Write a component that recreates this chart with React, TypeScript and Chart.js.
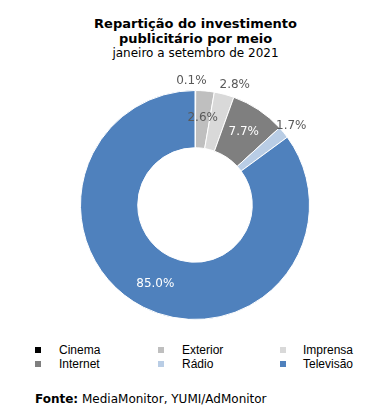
import React, { useEffect, useRef } from "react";
import { Chart, registerables } from "chart.js";

Chart.register(...registerables);

const categories = ["Cinema", "Exterior", "Imprensa", "Internet", "Rádio", "Televisão"];
const shares = [0.1, 2.6, 2.8, 7.7, 1.7, 85.0];
const colors = ["#000000", "#bfbfbf", "#d9d9d9", "#7f7f7f", "#b9cde5", "#4f81bd"];
const labelPlacement = ["out", "in", "out", "in", "out", "in"];
const labelColors = ["#595959", "#595959", "#595959", "#ffffff", "#595959", "#ffffff"];

const titleLines = ["Repartição do investimento", "publicitário por meio"];
const subtitle = "janeiro a setembro de 2021";
const sourceLabel = "Fonte:";
const sourceText = " MediaMonitor, YUMI/AdMonitor";

const labelPlugin = {
  id: "sliceLabels",
  afterDatasetsDraw(chart: any) {
    const ctx = chart.ctx;
    const meta = chart.getDatasetMeta(0);
    ctx.save();
    ctx.font = "12px 'DejaVu Sans'";
    ctx.textAlign = "center";
    ctx.textBaseline = "middle";
    meta.data.forEach((arc: any, i: number) => {
      const { x, y, startAngle, endAngle, innerRadius, outerRadius } = arc.getProps(
        ["x", "y", "startAngle", "endAngle", "innerRadius", "outerRadius"],
        true
      );
      const mid = (startAngle + endAngle) / 2;
      const text = shares[i].toFixed(1) + "%";
      let r: number;
      let dx = 0;
      if (labelPlacement[i] === "in") {
        r = (innerRadius + outerRadius) / 2 + 2;
      } else {
        r = outerRadius + 10;
        const s = Math.cos(mid);
        if (s > 0.15 && s < 0.5) dx = 8;
        if (Math.abs(s) < 0.05) dx = -4;
      }
      const px = x + Math.cos(mid) * r + dx;
      const py = y + Math.sin(mid) * r;
      ctx.fillStyle = labelColors[i];
      ctx.fillText(text, px, py);
    });
    ctx.restore();
  },
};

export default function App() {
  const canvasRef = useRef<HTMLCanvasElement | null>(null);

  useEffect(() => {
    if (!canvasRef.current) return;
    const chart = new Chart(canvasRef.current, {
      type: "doughnut",
      data: {
        labels: categories,
        datasets: [
          {
            data: shares,
            backgroundColor: colors,
            borderColor: "#ffffff",
            borderWidth: 1,
          },
        ],
      },
      options: {
        animation: false,
        responsive: false,
        maintainAspectRatio: false,
        cutout: "50%",
        layout: { padding: { left: 80, right: 81, top: 20, bottom: 20 } },
        plugins: {
          legend: { display: false },
          tooltip: { enabled: false },
          title: { display: false },
        },
      },
      plugins: [labelPlugin],
    });
    return () => chart.destroy();
  }, []);

  const legendCols = [
    { sq: 35, tx: 59 },
    { sq: 158, tx: 182 },
    { sq: 280, tx: 303 },
  ];

  return (
    <div
      style={{
        position: "absolute",
        left: 0,
        top: 0,
        width: 391,
        height: 416,
        background: "#ffffff",
        overflow: "hidden",
      }}
    >
      {titleLines.map((t, i) => (
        <div
          key={t}
          style={{
            position: "absolute",
            left: 0,
            width: 391,
            top: 16 + i * 15,
            textAlign: "center",
            font: "bold 13px 'DejaVu Sans'",
            lineHeight: "15px",
            color: "#000",
          }}
        >
          {t}
        </div>
      ))}
      <div
        style={{
          position: "absolute",
          left: 0,
          width: 391,
          top: 46,
          textAlign: "center",
          font: "12px 'DejaVu Sans'",
          lineHeight: "15px",
          color: "#000",
        }}
      >
        {subtitle}
      </div>
      <canvas
        ref={canvasRef}
        width={391}
        height={270}
        style={{ position: "absolute", left: 0, top: 70, width: 391, height: 270 }}
      />
      {categories.map((c, i) => {
        const col = legendCols[i % 3];
        const row = Math.floor(i / 3);
        const cy = 350 + row * 14;
        return (
          <React.Fragment key={c}>
            <div
              style={{
                position: "absolute",
                left: col.sq,
                top: cy - 3,
                width: 6,
                height: 6,
                background: colors[i],
              }}
            />
            <div
              style={{
                position: "absolute",
                left: col.tx,
                top: cy - 8,
                font: "12px 'Liberation Sans'",
                lineHeight: "16px",
                color: "#000",
                whiteSpace: "nowrap",
              }}
            >
              {c}
            </div>
          </React.Fragment>
        );
      })}
      <div
        style={{
          position: "absolute",
          left: 35,
          top: 391,
          font: "12px 'DejaVu Sans'",
          lineHeight: "16px",
          color: "#000",
          whiteSpace: "nowrap",
        }}
      >
        <b>{sourceLabel}</b>
        {sourceText}
      </div>
    </div>
  );
}
